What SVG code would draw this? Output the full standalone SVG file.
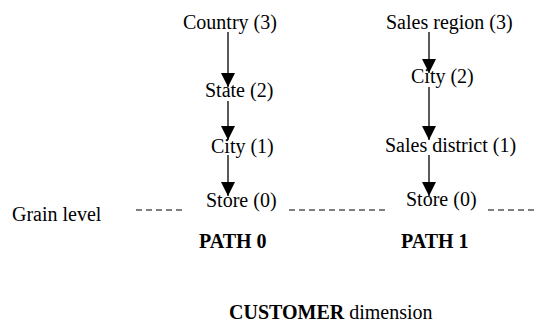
<svg xmlns="http://www.w3.org/2000/svg" width="540" height="326" viewBox="0 0 540 326">
  <style>
    text { font-family: "Liberation Serif", "Times New Roman", serif; font-size: 20px; fill: #000; }
    .b { font-weight: bold; }
    .edge { stroke: #000; stroke-width: 1.3; fill: none; marker-end: url(#head); }
    .grain { stroke: #000; stroke-width: 1; stroke-dasharray: 6 4; fill: none; }
  </style>
  <defs>
    <marker id="head" viewBox="0 0 14 14" refX="14" refY="7" markerWidth="14" markerHeight="14" markerUnits="userSpaceOnUse" orient="auto">
      <path d="M0,0 L14,7 L0,14 Z" fill="#000"/>
    </marker>
  </defs>

  <rect width="540" height="326" fill="#fff"/>

  <!-- hierarchy connectors -->
  <g id="connectors">
    <line class="edge" x1="228" y1="32" x2="228" y2="87"/>
    <line class="edge" x1="228" y1="101" x2="228" y2="140"/>
    <line class="edge" x1="228" y1="155" x2="228" y2="196"/>
    <line class="edge" x1="429" y1="32" x2="429" y2="73"/>
    <line class="edge" x1="429" y1="87" x2="429" y2="140"/>
    <line class="edge" x1="429" y1="155" x2="429" y2="196"/>
  </g>

  <!-- grain level guide -->
  <g id="grain-line">
    <line class="grain" x1="136" y1="210" x2="182" y2="210"/>
    <line class="grain" x1="289" y1="210" x2="385" y2="210"/>
    <line class="grain" x1="488" y1="210" x2="534" y2="210"/>
  </g>

  <!-- path 0 -->
  <g id="country"><text x="183" y="29">Country (3)</text></g>
  <g id="state"><text x="205" y="97">State (2)</text></g>
  <g id="city1"><text x="211" y="153">City (1)</text></g>
  <g id="store-p0"><text x="206" y="207">Store (0)</text></g>

  <!-- path 1 -->
  <g id="sales-region"><text x="386" y="29">Sales region (3)</text></g>
  <g id="city2"><text x="411" y="83">City (2)</text></g>
  <g id="sales-district"><text x="385" y="152">Sales district (1)</text></g>
  <g id="store-p1"><text x="406" y="206">Store (0)</text></g>

  <!-- labels -->
  <g id="labels">
    <text x="12" y="221">Grain level</text>
    <text class="b" x="199" y="248">PATH 0</text>
    <text class="b" x="401" y="248">PATH 1</text>
    <text x="229" y="319"><tspan class="b">CUSTOMER</tspan> dimension</text>
  </g>
</svg>
